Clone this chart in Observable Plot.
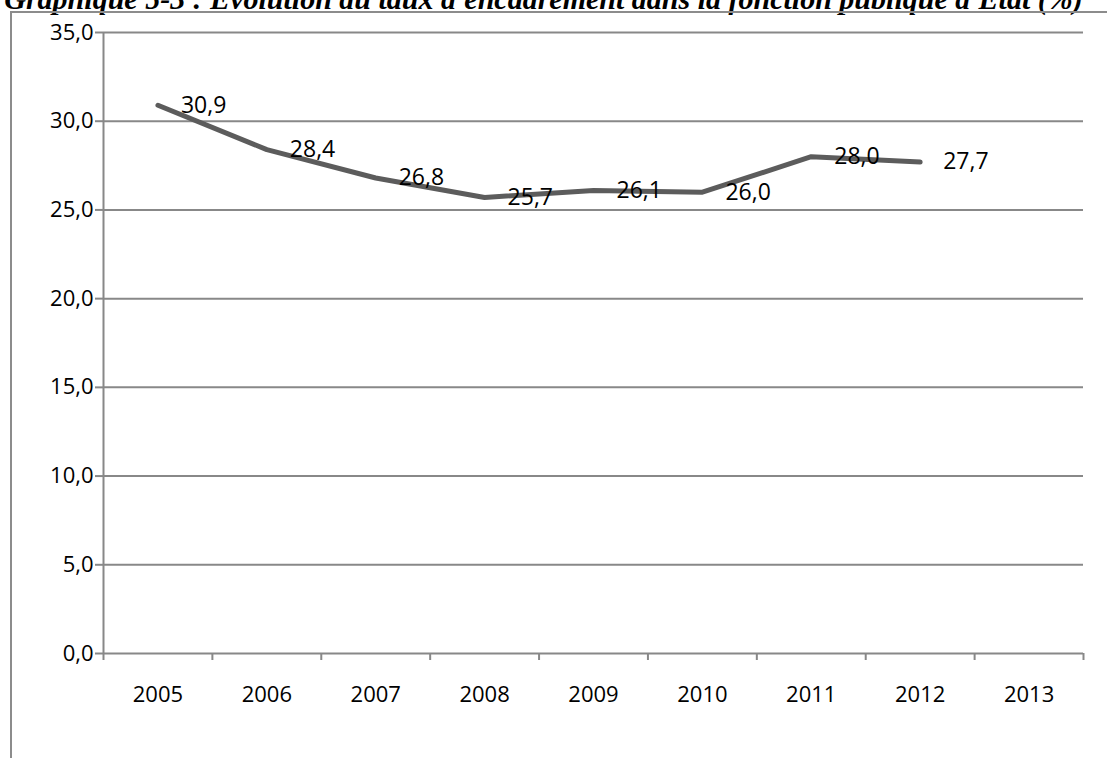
<!DOCTYPE html>
<html><head><meta charset="utf-8">
<script src="https://cdn.jsdelivr.net/npm/d3@7"></script>
<script src="https://cdn.jsdelivr.net/npm/@observablehq/plot@0.6"></script>
<style>
html,body{margin:0;padding:0;background:#fff;}
#wrap{position:relative;width:1107px;height:758px;overflow:hidden;}
#title{position:absolute;left:0;top:-16px;width:1087px;text-align:center;font-family:"Liberation Serif";font-weight:bold;font-style:italic;font-size:30px;line-height:1;white-space:nowrap;color:#000;}
#frame{position:absolute;left:10px;top:11px;right:-4px;bottom:-4px;border-top:2px solid #8c8c8c;border-left:2px solid #8c8c8c;pointer-events:none;}
#chart{position:absolute;left:0;top:0;}
</style></head><body>
<div id="wrap"><div id="chart"></div><div id="title">Graphique 5-3 : Evolution du taux d'encadrement dans la fonction publique d'Etat (%)</div><div id="frame"></div></div>
<script>
const years = [2005, 2006, 2007, 2008, 2009, 2010, 2011, 2012];
const values = [30.9, 28.4, 26.8, 25.7, 26.1, 26.0, 28.0, 27.7];
const axisYears = [2005, 2006, 2007, 2008, 2009, 2010, 2011, 2012, 2013];
const yTicks = [0, 5, 10, 15, 20, 25, 30, 35];

const data = years.map((year, i) => ({year, value: values[i]}));
const fmt = v => v.toFixed(1).replace(".", ",");
const bandEdges = [axisYears[0] - 0.5, ...axisYears.map(y => y + 0.5)];

const plot = Plot.plot({
  width: 1107, height: 758,
  marginLeft: 103, marginRight: 24, marginTop: 32, marginBottom: 105,
  style: {background: "transparent", fontFamily: "'Open Sans'", fontSize: "22px", color: "#000"},
  x: {type: "linear", domain: [bandEdges[0], bandEdges[bandEdges.length - 1]]},
  y: {domain: [0, 35]},
  marks: [
    Plot.gridY(yTicks, {stroke: "#888", strokeOpacity: 1, strokeWidth: 2}),
    Plot.ruleX([bandEdges[0]], {y1: 0, y2: 35, stroke: "#888", strokeWidth: 2}),
    Plot.axisY(yTicks, {tickSize: 8, tickPadding: 2, tickFormat: fmt, stroke: "#888", strokeWidth: 2, fill: "#000", label: null}),
    Plot.axisX(bandEdges, {tickSize: 7, tickFormat: () => "", stroke: "#888", strokeWidth: 2, label: null}),
    Plot.axisX(axisYears, {tickSize: 0, tickPadding: 33, tickFormat: d => String(d), fill: "#000", label: null}),
    Plot.line(data, {x: "year", y: "value", stroke: "#5c5c5c", strokeWidth: 5}),
    Plot.text(data, {x: "year", y: "value", text: d => fmt(d.value), dx: 23, textAnchor: "start", fill: "#000", fontSize: 23})
  ]
});
document.getElementById("chart").appendChild(plot);
</script>
</body></html>
